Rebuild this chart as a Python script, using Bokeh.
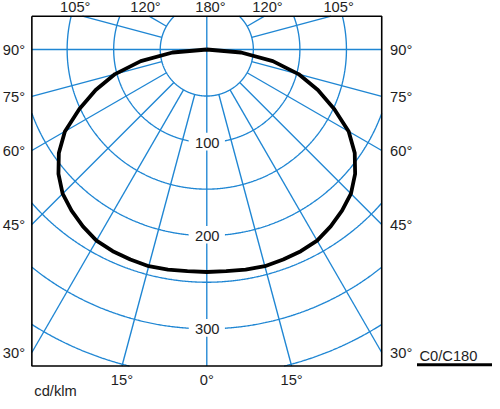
import math
from bokeh.plotting import figure
from bokeh.models import Range1d
from bokeh.embed import file_html
from bokeh.resources import INLINE
from bokeh.core.properties import value

# ---------------- data ----------------
# luminous intensity (cd/klm) of the C0/C180 plane, symmetric, gamma measured from nadir
gamma_deg = [0, 5, 10, 15, 20, 25, 30, 35, 40, 45, 50, 55, 60, 65, 70, 75, 80, 85, 90]
intensity = [239, 239, 240, 241, 240, 239, 237, 232, 226, 219, 208, 194, 176, 151, 127, 102, 72, 37, 0]

ring_values = [50, 100, 150, 200, 250, 300, 350]
ring_label_values = [100, 200, 300]
ring_labels = ["100", "200", "300"]

radial_angles = [0, 15, 30, 45, 60, 75, 90, 105, 120, 135, 150, 165, 180]

side_angles = [90, 75, 60, 45, 30]
side_labels = ["90°", "75°", "60°", "45°", "30°"]
top_labels = ["105°", "120°", "180°", "120°", "105°"]
bottom_angles = [-15, 0, 15]
bottom_labels = ["15°", "0°", "15°"]
unit_label = "cd/klm"
curve_label = "C0/C180"

# ---------------- layout (reference pixel geometry) ----------------
W, H = 492, 401
S = 0.98                      # reference px -> canvas px
CX, CY = 210.5, 50.0          # pole position (reference px)
PPU = 0.95                    # reference px per cd/klm
FL, FR, FT, FB = 32.0, 389.0, 16.0, 373.0   # frame edges (reference px)


def ref(px, py):
    return (px - CX) / PPU, (CY - py) / PPU


XMIN, YMAX = ref(FL, FT)
XMAX, YMIN = ref(FR, FB)

BLUE = "#1f86d3"
TXT = "#1e1e1e"
FONT = value("Liberation Sans")
FS = "14.7px"

p = figure(width=W, height=H, output_backend="svg", toolbar_location=None,
           x_range=Range1d(ref(0, 0)[0], ref(W / S, 0)[0]),
           y_range=Range1d(ref(0, H / S)[1], ref(0, 0)[1]),
           x_axis_location=None, y_axis_location=None, min_border=0,
           outline_line_color=None, background_fill_color="white",
           border_fill_color="white")
p.grid.visible = False


def clip_seg(x0, y0, x1, y1):
    dx, dy = x1 - x0, y1 - y0
    t0, t1 = 0.0, 1.0
    for pp, q in ((-dx, x0 - XMIN), (dx, XMAX - x0), (-dy, y0 - YMIN), (dy, YMAX - y0)):
        if pp == 0:
            if q < 0:
                return None
        else:
            t = q / pp
            if pp < 0:
                if t > t1:
                    return None
                t0 = max(t0, t)
            else:
                if t < t0:
                    return None
                t1 = min(t1, t)
    return (x0 + t0 * dx, y0 + t0 * dy, x0 + t1 * dx, y0 + t1 * dy, t0 > 0, t1 < 1)


def clip_polyline(xs, ys):
    pieces, cx, cy = [], [], []
    for i in range(len(xs) - 1):
        r = clip_seg(xs[i], ys[i], xs[i + 1], ys[i + 1])
        if r is None:
            if cx:
                pieces.append((cx, cy))
                cx, cy = [], []
            continue
        ax, ay, bx, by, cut0, cut1 = r
        if not cx or cut0:
            if cx:
                pieces.append((cx, cy))
            cx, cy = [ax], [ay]
        cx.append(bx)
        cy.append(by)
        if cut1:
            pieces.append((cx, cy))
            cx, cy = [], []
    if cx:
        pieces.append((cx, cy))
    return pieces


gx, gy = [], []
# rings
for rv in ring_values:
    n = 1441
    xs = [rv * math.cos(2 * math.pi * k / (n - 1)) for k in range(n)]
    ys = [rv * math.sin(2 * math.pi * k / (n - 1)) for k in range(n)]
    for a, b in clip_polyline(xs, ys):
        gx.append(a)
        gy.append(b)
# radial lines
inner = ring_values[0]
for ang in radial_angles:
    sides = [1] if ang in (0, 180) else [1, -1]
    for sd in sides:
        g = math.radians(ang)
        dxn, dyn = sd * math.sin(g), -math.cos(g)
        r0 = 0 if ang in (0, 90, 180) else inner
        xs = [r0 * dxn, 1000 * dxn]
        ys = [r0 * dyn, 1000 * dyn]
        for a, b in clip_polyline(xs, ys):
            gx.append(a)
            gy.append(b)
p.multi_line(gx, gy, line_color=BLUE, line_width=1.35)

# ring labels with white boxes
p.rect(x=[0] * len(ring_label_values), y=[-v + 1 / PPU for v in ring_label_values],
       width=37 * S, height=18 * S, width_units="screen", height_units="screen",
       fill_color="white", line_color=None)
p.text(x=[0.5] * len(ring_label_values), y=[-v for v in ring_label_values], text=ring_labels,
       text_font=FONT, text_font_size=FS, text_color=TXT,
       text_align="center", text_baseline="middle")

# intensity curve (right half from pole down to nadir, then left half back up)
cxs, cys = [], []
for g, iv in zip(reversed(gamma_deg), reversed(intensity)):
    cxs.append(iv * math.sin(math.radians(g)))
    cys.append(-iv * math.cos(math.radians(g)))
for g, iv in zip(gamma_deg[1:], intensity[1:]):
    cxs.append(-iv * math.sin(math.radians(g)))
    cys.append(-iv * math.cos(math.radians(g)))
p.line(cxs, cys, line_color="black", line_width=3.8, line_join="round")

# frame
p.line([XMIN, XMAX, XMAX, XMIN, XMIN], [YMAX, YMAX, YMIN, YMIN, YMAX],
       line_color="black", line_width=1.6)

# side labels
def side_y(a):
    return CY + (FR - CX) / math.tan(math.radians(a)) + 1.0

lx, ly, rx, ry = [], [], [], []
for a in side_angles:
    yy = side_y(a)
    lx.append(ref(25.0, yy)[0]); ly.append(ref(25.0, yy)[1])
    rx.append(ref(397.5, yy)[0]); ry.append(ref(397.5, yy)[1])
p.text(x=lx, y=ly, text=side_labels, text_font=FONT, text_font_size=FS, text_color=TXT,
       text_align="right", text_baseline="middle")
p.text(x=rx, y=ry, text=side_labels, text_font=FONT, text_font_size=FS, text_color=TXT,
       text_align="left", text_baseline="middle")

# top labels
top_offsets = [-134.2, -62.5, 3.7, 62.0, 134.5]
tx = [ref(CX + o, 7.0)[0] for o in top_offsets]
ty = [ref(CX, 7.0)[1]] * len(top_offsets)
p.text(x=tx, y=ty, text=top_labels, text_font=FONT, text_font_size=FS, text_color=TXT,
       text_align="center", text_baseline="middle")

# bottom labels
bx = [ref(CX + (FB - CY) * math.tan(math.radians(a)), 387.5)[0] for a in bottom_angles]
by = [ref(CX, 387.5)[1]] * len(bottom_angles)
p.text(x=bx, y=by, text=bottom_labels, text_font=FONT, text_font_size=FS, text_color=TXT,
       text_align="center", text_baseline="middle")

# unit label
ux, uy = ref(34.5, 398.0)
p.text(x=[ux], y=[uy], text=[unit_label], text_font=FONT, text_font_size=FS, text_color=TXT,
       text_align="left", text_baseline="middle")

# legend
lgx, lgy = ref(427.5, 362.5)
p.text(x=[lgx], y=[lgy], text=[curve_label], text_font=FONT, text_font_size=FS, text_color=TXT,
       text_align="left", text_baseline="middle")
u0 = ref(425, 371.7)
u1 = ref(520, 371.7)
p.line([u0[0], u1[0]], [u0[1], u1[1]], line_color="black", line_width=3.2)

open("out.html", "w").write(file_html(p, INLINE, title="polar"))
